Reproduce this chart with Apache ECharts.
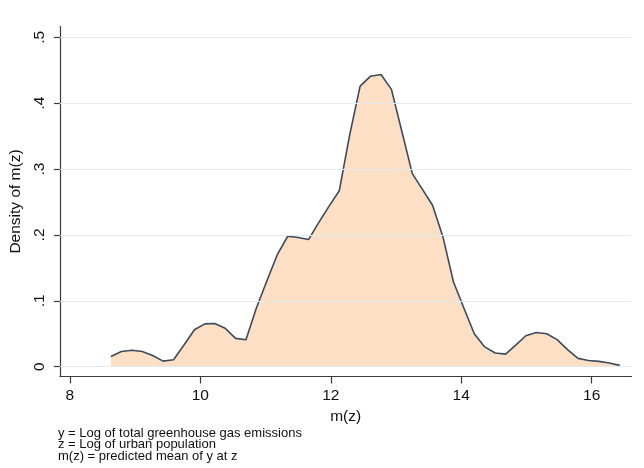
<!DOCTYPE html>
<html>
<head>
<meta charset="utf-8">
<title>Density of m(z)</title>
<script src="https://cdn.jsdelivr.net/npm/echarts@6/dist/echarts.min.js"></script>
<style>
    html, body {margin: 0; padding: 0; background: #fff;}
    #main {width: 644px; height: 468px;}
</style>
</head>
<body>
<div id="main"></div>
<script>
// m(z) grid points
var mz = [8.63, 8.79, 8.95, 9.11, 9.27, 9.43, 9.59, 9.75, 9.91, 10.07,
          10.22, 10.38, 10.54, 10.70, 10.86, 11.02, 11.18, 11.34, 11.50, 11.66,
          11.81, 11.97, 12.13, 12.29, 12.45, 12.61, 12.77, 12.93, 13.09, 13.25,
          13.40, 13.56, 13.72, 13.88, 14.04, 14.20, 14.36, 14.52, 14.68, 14.84,
          14.99, 15.15, 15.31, 15.47, 15.63, 15.79, 15.95, 16.11, 16.27, 16.43];
// density values
var density = [0.0156, 0.023, 0.025, 0.023, 0.017, 0.0085, 0.0106, 0.033, 0.056, 0.065,
               0.0656, 0.0585, 0.043, 0.041, 0.089, 0.13, 0.170, 0.198, 0.196, 0.193,
               0.218, 0.243, 0.267, 0.352, 0.426, 0.441, 0.4435, 0.421, 0.357, 0.293,
               0.27, 0.245, 0.197, 0.129, 0.089, 0.050, 0.030, 0.0207, 0.019, 0.033,
               0.047, 0.052, 0.050, 0.041, 0.026, 0.0126, 0.0095, 0.008, 0.0055, 0.002];
var xTicks = [8, 10, 12, 14, 16];
var yTicks = [0, 0.1, 0.2, 0.3, 0.4, 0.5];
var notes = [
    'y = Log of total greenhouse gas emissions',
    'z = Log of urban population',
    'm(z) = predicted mean of y at z'
];

var font = "'Liberation Sans', Arial, sans-serif";
var axisColor = '#3a3a3a';

var points = [];
for (var i = 0; i < mz.length; i++) {
    points.push([mz[i], density[i]]);
}

/*网格线*/
var gridLines = [];
for (var j = 0; j < yTicks.length; j++) {
    gridLines.push({yAxis: yTicks[j]});
}

var noteItems = [];
for (var k = 0; k < notes.length; k++) {
    noteItems.push({
        type: 'text',
        left: 58,
        top: 427 + k * 11.4,
        style: {
            text: notes[k],
            font: '13px ' + font,
            fill: '#111'
        }
    });
}

var myChart = echarts.init(document.getElementById('main'));
var option = {
    animation: false,
    backgroundColor: '#fff',
    grid: {left: 56.5, right: 12.5, top: 26.5, bottom: 91.5},
    xAxis: {
        type: 'value',
        min: 7.848,
        max: 16.61,
        name: 'm(z)',
        nameLocation: 'middle',
        nameGap: 31,
        nameTextStyle: {color: '#111', fontSize: 15.5, fontFamily: font},
        axisLine: {show: true, onZero: false, lineStyle: {color: axisColor, width: 1.2}},
        axisTick: {show: true, length: 7, customValues: xTicks, lineStyle: {color: axisColor, width: 1.2}},
        axisLabel: {
            customValues: xTicks,
            margin: 11,
            color: '#111',
            fontSize: 15.5,
            fontFamily: font
        },
        splitLine: {show: false}
    },
    yAxis: {
        type: 'value',
        min: -0.0149,
        max: 0.5164,
        name: 'Density of m(z)',
        nameLocation: 'middle',
        nameGap: 28,
        nameRotate: 90,
        nameTextStyle: {color: '#111', fontSize: 15.5, fontFamily: font},
        axisLine: {show: true, onZero: false, lineStyle: {color: axisColor, width: 1.2}},
        axisTick: {show: true, length: 6, customValues: yTicks, lineStyle: {color: axisColor, width: 1.2}},
        axisLabel: {
            customValues: yTicks,
            rotate: 90,
            margin: 12,
            color: '#111',
            fontSize: 15.5,
            fontFamily: font,
            formatter: function (v) {
                if (Math.abs(v) < 1e-9) return '0';
                return '.' + Math.round(v * 10);
            }
        },
        splitLine: {show: false}
    },
    graphic: noteItems,
    series: [
        {
            // gridlines behind the area
            type: 'line',
            data: [],
            z: 1,
            silent: true,
            markLine: {
                silent: true,
                symbol: 'none',
                label: {show: false},
                lineStyle: {color: '#e3eaf0', width: 1.2, type: 'solid'},
                data: gridLines
            }
        },
        {
            name: 'density',
            type: 'line',
            data: points,
            z: 2,
            showSymbol: false,
            smooth: false,
            lineStyle: {color: '#3d4a5c', width: 1.6},
            areaStyle: {color: '#fddfc6', opacity: 1}
        }
    ]
};
myChart.setOption(option);
</script>
</body>
</html>
